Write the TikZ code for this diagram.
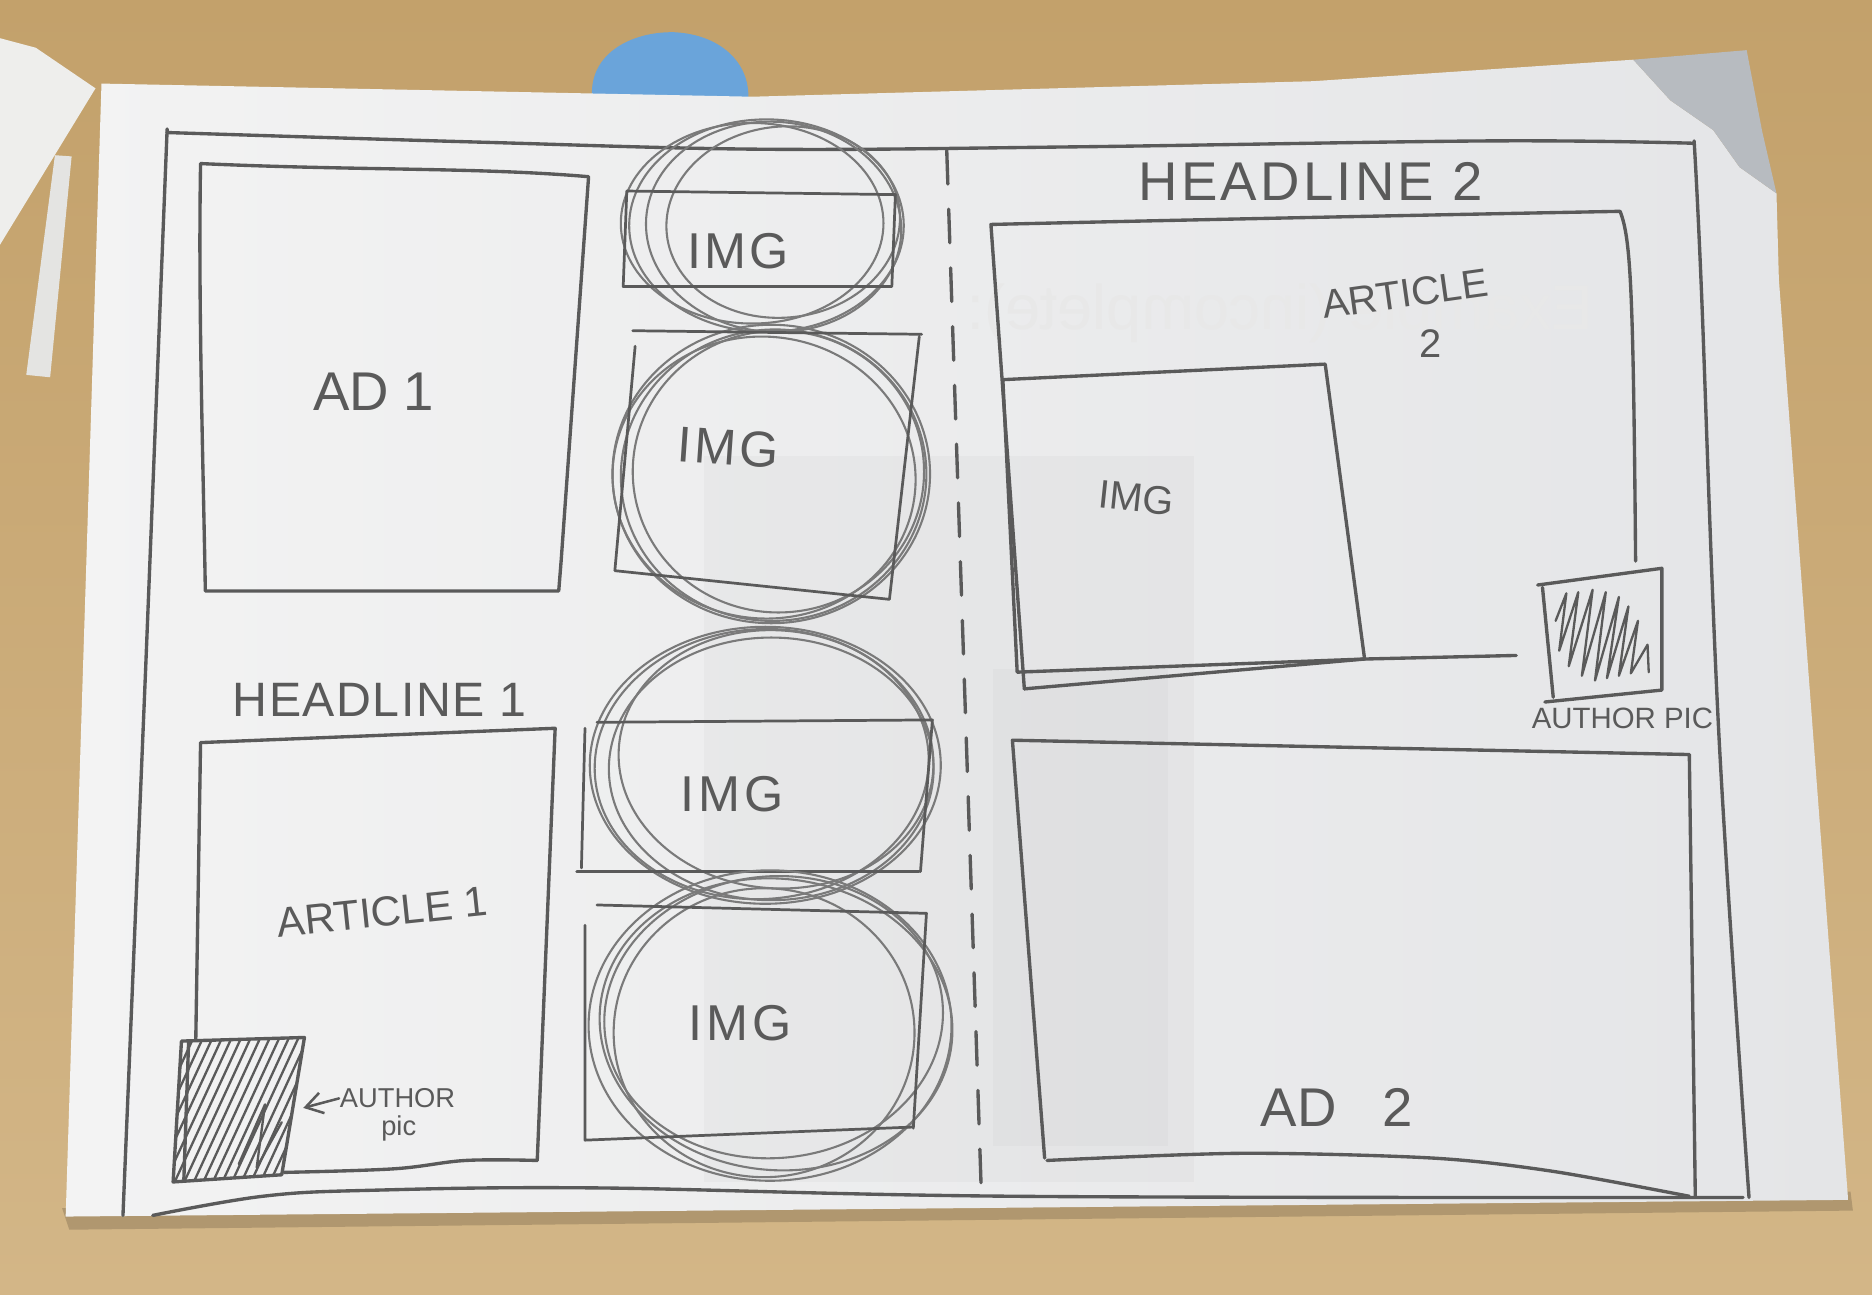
\documentclass[tikz,border=0pt]{standalone}
\usepackage{fontspec}
\setmainfont{Liberation Sans}
\usetikzlibrary{arrows.meta}
\definecolor{woodtop}{HTML}{C3A16B}
\definecolor{woodbottom}{HTML}{D3B687}
\definecolor{paperleft}{HTML}{F3F3F3}
\definecolor{paperright}{HTML}{E4E5E7}
\definecolor{scrap}{HTML}{EEEEEC}
\definecolor{curl}{HTML}{B7BBC0}
\definecolor{pencil}{HTML}{5A5A5A}
\definecolor{pencilsoft}{HTML}{7A7A7A}
\definecolor{note}{HTML}{6AA4DA}
\tikzset{
  pen/.style={draw=pencil, line width=0.8pt, line join=round, line cap=round},
  thinpen/.style={pen, line width=0.65pt},
  softpen/.style={draw=pencilsoft, line width=0.5pt, line cap=round},
  hatchpen/.style={draw=pencil, line width=0.55pt, line cap=round, line join=round},
  hand/.style={text=pencil, inner sep=0pt},
  ghost/.style={text=black!9, inner sep=0pt},
}
\newcommand{\fsz}[1]{\fontsize{#1}{#1}\selectfont}
\newcommand{\spaced}[1]{\addfontfeatures{LetterSpace=#1}}
\begin{document}
\begin{tikzpicture}[x=0.01cm, y=-0.01cm]
\useasboundingbox (0,0) rectangle (1568,1084);

% table top
\shade[top color=woodtop, bottom color=woodbottom] (0,0) rectangle (1568,1084);

% loose paper scraps on the left
\fill[scrap] (0,32) -- (30,40) -- (80,74) -- (0,205) -- cycle;
\fill[scrap!96!black] (46,130) -- (60,131) -- (42,316) -- (22,314) -- cycle;

% blue note behind the sheet
\fill[note] (497,90) .. controls (488,45) and (530,26) .. (565,27)
  .. controls (605,29) and (632,55) .. (626,90) -- cycle;

% shadow along the lower edge of the sheet
\fill[black, opacity=0.16] (52,1012) -- (1550,998) -- (1552,1014) -- (58,1030) -- cycle;

% sheet of paper
\shade[left color=paperleft, right color=paperright]
  (85,70) -- (630,81) -- (1100,68) -- (1368,50) -- (1399,84) -- (1435,109)
  -- (1457,140) -- (1488,162) -- (1490,234) -- (1548,1005) -- (55,1019) -- cycle;
% curled top-right corner
\fill[curl] (1368,50) -- (1463,42) -- (1476,110) -- (1488,162) -- (1457,140)
  -- (1435,109) -- (1399,84) -- cycle;

% print showing through from the back of the sheet
\fill[black, opacity=0.022] (590,382) rectangle (1000,990);
\fill[black, opacity=0.02] (832,560) rectangle (978,960);
\node[ghost, font=\fsz{15}, xscale=-1] (ghosttext) at (1072,262) {Example (incomplete):};

% outer frame of the page layout
\draw[pen] plot[smooth, tension=0.6] coordinates {(140,111) (400,119) (640,125) (900,123) (1250,118) (1419,120)};
\draw[pen] (140,108) -- (122,560) -- (103,1018);
\draw[pen] plot[smooth, tension=0.6] coordinates {(1419,118) (1425,240) (1440,620) (1465,1003)};
\draw[pen] plot[smooth, tension=0.6] coordinates {(128,1018) (220,1002) (310,997) (500,995) (850,1002) (1460,1003)};

% dashed fold line
\draw[pen, dash pattern=on 8pt off 6pt] (793,126) -- (822,1000);

% ad 1
\draw[pen] (168,137) .. controls (300,143) and (400,140) .. (493,148) -- (470,470) -- (468,495)
  -- (172,495) .. controls (170,380) and (166,250) .. (168,137);
\node[hand, font=\fsz{13}] (ad1) at (313,328) {AD 1};

% article 1
\node[hand, font=\fsz{11.5}\spaced{3}] (headline1) at (318,586) {HEADLINE 1};
\draw[pen] (164,870) -- (168,622) -- (465,610) -- (450,972);
\draw[pen] plot[smooth, tension=0.6] coordinates {(238,982) (330,979) (390,972) (450,972)};
\node[hand, font=\fsz{10}, rotate=6] (article1) at (320,764) {ARTICLE 1};

% author picture 1
\begin{scope}
  \clip (152,872) -- (255,869) -- (236,984) -- (145,990) -- cycle;
  \foreach \i in {0,...,24} \draw[hatchpen] ({40+\i*8},995) -- ++(60,-130);
  \draw[hatchpen] (200,975) -- (222,925) -- (215,978) -- (236,940);
\end{scope}
\draw[pen] (152,872) -- (255,869) -- (236,984) -- (145,990) -- cycle;
\draw[pen] (158,872) -- (154,988);
\coordinate (pic1edge) at (254,928);
\node[hand, font=\fsz{6.5}] (author1) at (333,920) {AUTHOR};
\node[hand, font=\fsz{6.5}] (pic1) at (334,945) {pic};
\draw[pen, line width=0.6pt, -{Straight Barb[length=4pt, width=5pt]}] (author1.west) -- (pic1edge);

% column of image placeholders
\draw[softpen] (642,189) ellipse [x radius=115, y radius=89];
\draw[softpen, rotate around={-4:(648,190)}] (648,190) ellipse [x radius=107, y radius=88];
\draw[softpen] (630,187) ellipse [x radius=110, y radius=84];
\draw[softpen, rotate around={6:(656,186)}] (656,186) ellipse [x radius=98, y radius=80];
\draw[thinpen] (525,160) -- (750,163) -- (747,240) -- (522,240) -- cycle;
\node[hand, font=\fsz{12}\spaced{6}] (img1) at (618,210) {IMG};

\draw[softpen] (646,397) ellipse [x radius=133, y radius=125];
\draw[softpen, rotate around={5:(648,398)}] (648,398) ellipse [x radius=128, y radius=122];
\draw[softpen] (652,395) ellipse [x radius=122, y radius=118];
\draw[softpen, rotate around={-6:(640,400)}] (640,400) ellipse [x radius=127, y radius=118];
\draw[thinpen] (530,277) -- (772,280) (532,290) -- (515,478) -- (745,502) -- (770,282);
\node[hand, font=\fsz{12}\spaced{6}, rotate=-4] (img2) at (610,375) {IMG};

\draw[softpen] (641,641) ellipse [x radius=147, y radius=116];
\draw[softpen, rotate around={4:(638,640)}] (638,640) ellipse [x radius=140, y radius=113];
\draw[softpen] (646,644) ellipse [x radius=136, y radius=110];
\draw[softpen, rotate around={-5:(650,636)}] (650,636) ellipse [x radius=132, y radius=108];
\draw[thinpen] (500,605) -- (781,603) -- (771,730) (483,730) -- (770,730) (490,610) -- (487,727);
\node[hand, font=\fsz{12}\spaced{8}] (img3) at (613,665) {IMG};

\draw[softpen] (645,859) ellipse [x radius=152, y radius=130];
\draw[softpen, rotate around={-6:(650,858)}] (650,858) ellipse [x radius=148, y radius=122];
\draw[softpen] (640,865) ellipse [x radius=126, y radius=121];
\draw[softpen, rotate around={5:(648,852)}] (648,852) ellipse [x radius=142, y radius=118];
\draw[thinpen] (500,758) -- (776,765) -- (765,945) (490,775) -- (490,955) -- (765,944);
\node[hand, font=\fsz{12}\spaced{8}] (img4) at (620,857) {IMG};

% article 2
\node[hand, font=\fsz{13}\spaced{6}] (headline2) at (1098,152) {HEADLINE 2};
\draw[pen] (858,577) -- (830,188) .. controls (1000,184) and (1200,180) .. (1357,177)
  .. controls (1366,200) and (1368,240) .. (1370,470);
\draw[pen] (858,577) -- (1143,552) -- (1270,549);
\draw[pen] (840,318) -- (1110,305) -- (1143,552) -- (852,563) -- cycle;
\node[hand, font=\fsz{9.5}, rotate=-6] (img5) at (952,417) {IMG};
\node[hand, font=\fsz{9.5}, rotate=8] (article2) at (1177,246) {ARTICLE};
\node[hand, font=\fsz{9.5}] (article2num) at (1198,288) {2};

% author picture 2
\draw[pen] (1288,490) -- (1392,476) -- (1392,578) -- (1294,588);
\draw[pen] (1292,492) -- (1301,584);
\draw[hatchpen] (1303,520) -- (1312,497) -- (1306,545) -- (1322,496) -- (1314,558) -- (1334,494)
  -- (1325,566) -- (1345,496) -- (1336,570) -- (1356,500) -- (1346,568) -- (1364,508)
  -- (1356,566) -- (1372,520) -- (1366,564) -- (1380,540) -- (1381,563);
\node[hand, font=\fsz{7}] (author2) at (1359,602) {AUTHOR PIC};

% ad 2
\draw[pen] (875,970) -- (848,620) -- (1415,632) -- (1420,1002);
\draw[pen] plot[smooth, tension=0.5] coordinates {(877,972) (1040,966) (1200,970) (1300,981) (1415,1002)};
\node[hand, font=\fsz{13}] (ad2) at (1120,928) {AD\hspace{11pt}2};
\end{tikzpicture}
\end{document}
